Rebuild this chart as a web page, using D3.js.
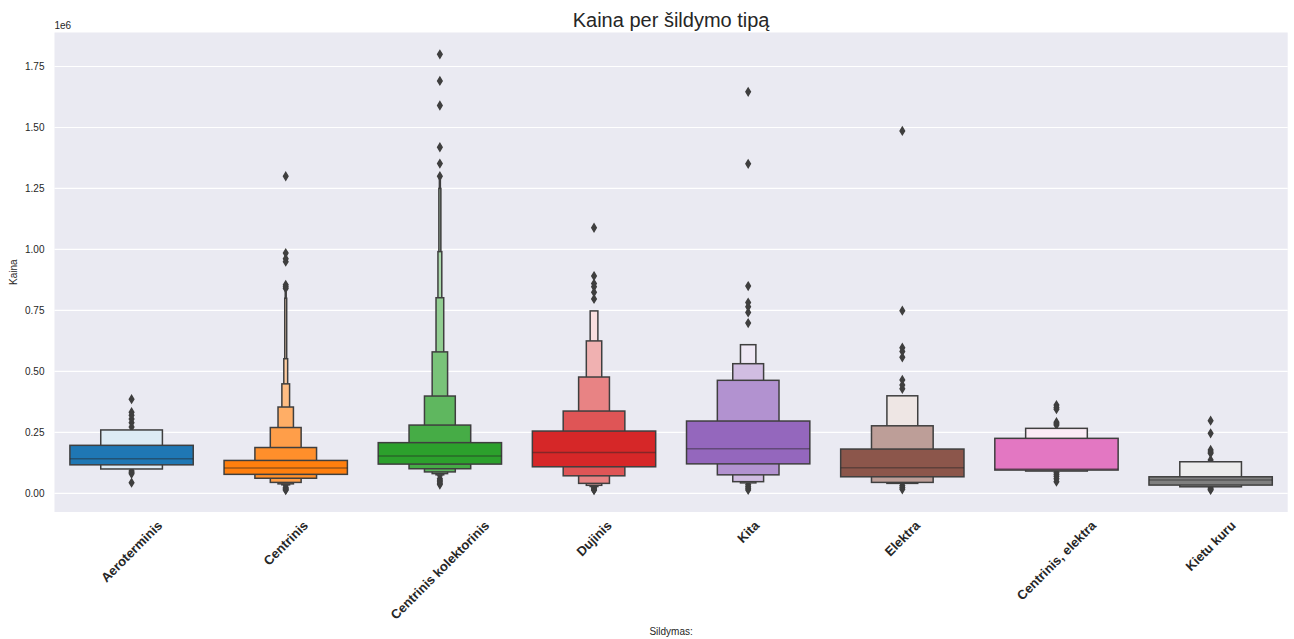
<!DOCTYPE html>
<html>
<head>
<meta charset="utf-8">
<script src="https://cdn.jsdelivr.net/npm/d3@7"></script>
<style>
  body { margin: 0; background: #fff; }
  svg { display: block; font-family: "Liberation Sans", Arial, sans-serif; }
</style>
</head>
<body>
<svg id="chart" width="1294" height="639"></svg>
<script>
// Heating types (x categories)
const categories = ["Aeroterminis", "Centrinis", "Centrinis kolektorinis", "Dujinis",
                    "Kita", "Elektra", "Centrinis, elektra", "Kietu kuru"];

// Letter-value box ends per category, innermost (quartile) box first
const boxUpper = [
  [197000, 260000],
  [135000, 188000, 270000, 354000, 449000, 552000, 800000, 845000],
  [208000, 280000, 399000, 580000, 802000, 991000, 1250000, 1295000],
  [255500, 337500, 477000, 625000, 748000],
  [296600, 463500, 531600, 609500],
  [181700, 277000, 400000],
  [225600, 266600],
  [68000, 129600]
];
const boxLower = [
  [117000, 100000],
  [78000, 62000, 45000, 39000, 35000, 32000, 29000, 27000],
  [120000, 101000, 88000, 81000, 76000, 72000, 69000, 66000],
  [109000, 72000, 41000, 33000, 28000],
  [121000, 76000, 48000, 43000],
  [68000, 45000, 41000],
  [95600, 91500],
  [34000, 27000]
];
const medians = [142000, 104000, 153000, 168000, 183000, 105000, 100000, 55000];

// Points beyond the last letter value
const outliers = [
  [386000, 333000, 320000, 305000, 290000, 272000, 92000, 86000, 80000, 44000],
  [1300000, 985000, 962000, 950000, 855000, 847000, 840000, 24000, 20000, 16000, 13000],
  [1800000, 1691000, 1590000, 1419000, 1352000, 1300000, 60000, 54000, 48000, 42000, 36000],
  [1089000, 891000, 860000, 847000, 824000, 797000, 24000, 19000, 15000, 13000],
  [1646000, 1351000, 850000, 782000, 765000, 742000, 698000, 36000, 28000, 21000, 14000],
  [1486000, 749000, 597000, 582000, 558000, 465000, 444000, 429000, 32000, 24000, 17000],
  [362000, 352000, 345000, 292000, 285000, 280000, 86000, 78000, 70000, 60000, 48000],
  [298000, 246000, 178000, 170000, 164000, 137000, 22000, 17000, 14000]
];

const yTicks = [0, 250000, 500000, 750000, 1000000, 1250000, 1500000, 1750000];

const palette = ["#1f77b4", "#ff7f0e", "#2ca02c", "#d62728",
                 "#9467bd", "#8c564b", "#e377c2", "#7f7f7f"];

const edgeGray = "#3f3f3f";
const textColor = "#262626";

const svg = d3.select("#chart");
const plot = { left: 54.5, right: 1287.7, top: 32.5, bottom: 512 };

// Background
svg.append("rect").attr("width", 1294).attr("height", 639).attr("fill", "#fff");
svg.append("rect")
  .attr("x", plot.left).attr("y", plot.top)
  .attr("width", plot.right - plot.left).attr("height", plot.bottom - plot.top)
  .attr("fill", "#eaeaf2");

// Scales
const x = d3.scaleBand().domain(categories).range([plot.left, plot.right]).padding(0);
const allVals = [...outliers.flat(), ...boxUpper.flat(), ...boxLower.flat()];
const lo = d3.min(allVals), hi = d3.max(allVals);
const pad = 0.05 * (hi - lo);
const y = d3.scaleLinear().domain([lo - pad, hi + pad]).range([plot.bottom, plot.top]);

// Horizontal grid
svg.append("g").selectAll("line").data(yTicks).join("line")
  .attr("x1", plot.left).attr("x2", plot.right)
  .attr("y1", d => y(d)).attr("y2", d => y(d))
  .attr("stroke", "#fff").attr("stroke-width", 1.2);

// Y axis
const yAxis = svg.append("g")
  .attr("transform", `translate(${plot.left},0)`)
  .call(d3.axisLeft(y).tickValues(yTicks).tickSize(0).tickPadding(10)
        .tickFormat(d => (d / 1e6).toFixed(2)));
yAxis.select(".domain").remove();
yAxis.selectAll("text").attr("font-size", 10).attr("fill", textColor)
  .attr("font-family", "Liberation Sans, Arial, sans-serif");

svg.append("text").attr("x", plot.left).attr("y", 29)
  .attr("font-size", 10).attr("fill", textColor).text("1e6");

// X axis with rotated, centred labels
const xAxis = svg.append("g")
  .attr("transform", `translate(0,${plot.bottom})`)
  .call(d3.axisBottom(x).tickSize(0));
xAxis.select(".domain").remove();
xAxis.selectAll("text")
  .attr("font-size", 13).attr("font-weight", "bold").attr("fill", textColor)
  .attr("font-family", "Liberation Sans, Arial, sans-serif")
  .attr("text-anchor", "middle").attr("dominant-baseline", "central")
  .attr("x", 0).attr("y", 0).attr("dy", null)
  .attr("transform", function () {
    const L = this.getComputedTextLength();
    const h = 14.5;
    const half = (L + h) * Math.SQRT1_2 / 2;
    return `translate(0,${6 + half}) rotate(-45)`;
  });

// Axis titles
svg.append("text").attr("x", (plot.left + plot.right) / 2).attr("y", 635)
  .attr("text-anchor", "middle").attr("font-size", 10).attr("fill", textColor)
  .text("Sildymas:");
svg.append("text")
  .attr("transform", `translate(17,${(plot.top + plot.bottom) / 2}) rotate(-90)`)
  .attr("text-anchor", "middle").attr("font-size", 10).attr("fill", textColor)
  .text("Kaina");

// Title
svg.append("text").attr("x", (plot.left + plot.right) / 2).attr("y", 27)
  .attr("text-anchor", "middle").attr("font-size", 20).attr("fill", textColor)
  .text("Kaina per šildymo tipą");

// Letter-value boxes
const fullWidth = x.bandwidth() * 0.8;
const diamond = "M0,-3.8L2.3,0L0,3.8L-2.3,0Z";

categories.forEach((cat, i) => {
  const g = svg.append("g").attr("transform", `translate(${x(cat) + x.bandwidth() / 2},0)`);
  const base = palette[i];
  const light = d3.interpolateRgb(base, "#ffffff")(0.85);
  const k = boxUpper[i].length;

  // outliers sit beneath the boxes
  g.selectAll("path.flier").data(outliers[i]).join("path")
    .attr("class", "flier")
    .attr("d", diamond)
    .attr("transform", d => `translate(0,${y(d)})`)
    .attr("fill", edgeGray).attr("stroke", edgeGray).attr("stroke-width", 1.4);

  // outermost box first, so inner boxes sit on top
  const levels = d3.range(k).reverse();
  g.selectAll("rect.lv").data(levels).join("rect")
    .attr("class", "lv")
    .attr("x", j => -fullWidth / Math.pow(2, j) / 2)
    .attr("width", j => fullWidth / Math.pow(2, j))
    .attr("y", j => y(boxUpper[i][j]))
    .attr("height", j => y(boxLower[i][j]) - y(boxUpper[i][j]))
    .attr("fill", j => k > 1 ? d3.interpolateRgb(base, light)(j / (k - 1)) : base)
    .attr("stroke", edgeGray).attr("stroke-width", 1.5);

  // median
  g.append("line")
    .attr("x1", -fullWidth / 2).attr("x2", fullWidth / 2)
    .attr("y1", y(medians[i])).attr("y2", y(medians[i]))
    .attr("stroke", textColor).attr("stroke-opacity", 0.45).attr("stroke-width", 1.5);
});
</script>
</body>
</html>
